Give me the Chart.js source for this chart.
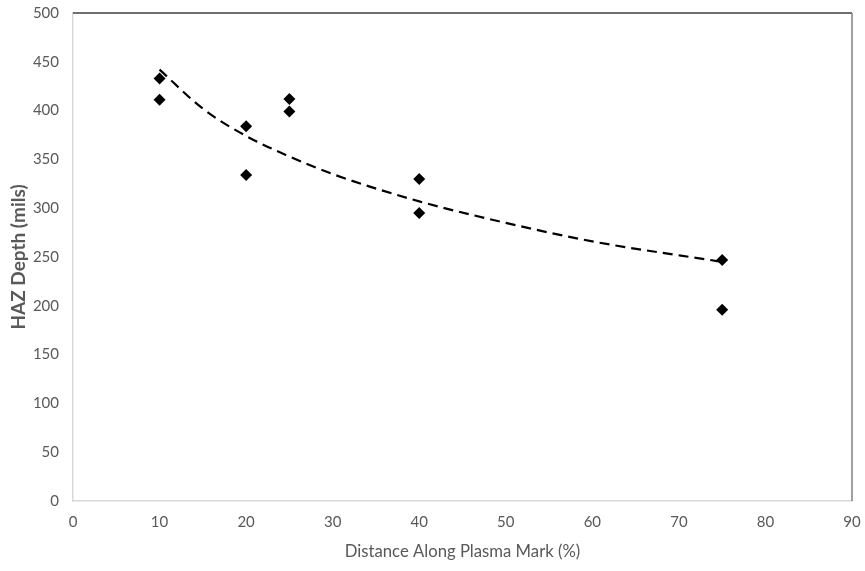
<!DOCTYPE html>
<html lang="en">
<head>
  <meta charset="UTF-8" />
  <title>HAZ Depth vs Distance Along Plasma Mark</title>
  <style>
    body { margin: 0; background: #ffffff; }
    .chart-wrapper { position: relative; width: 865px; height: 571px; }
  </style>
</head>
<body>

<div class="chart-wrapper"><canvas id="hazChart"></canvas></div>

<script src="https://cdn.jsdelivr.net/npm/chart.js@4.4.3"></script>

<script>
  const distance = [10, 10, 20, 20, 25, 25, 40, 40, 75, 75];
  const hazDepth = [433, 411, 384, 334, 412, 399, 330, 295, 247, 196];

  // dashed trendline
  const trendX = [10, 15, 20, 25, 30, 40, 50, 60, 75];
  const trendY = [442, 402, 374, 353, 335, 307, 285, 266, 245];

  const xTitle = 'Distance Along Plasma Mark (%)';
  const yTitle = 'HAZ Depth (mils)';

  const grey = '#595959';
  const font = 'Lato, "Open Sans", sans-serif';

  // top + right edges of the plot box
  const boxEdges = {
    id: 'boxEdges',
    afterDraw(chart) {
      const { ctx, chartArea: a } = chart;
      ctx.save();
      ctx.lineWidth = 1.5;
      ctx.strokeStyle = '#404040';
      ctx.beginPath();
      ctx.moveTo(a.left, a.top);
      ctx.lineTo(a.right, a.top);
      ctx.stroke();
      ctx.strokeStyle = '#808080';
      ctx.beginPath();
      ctx.moveTo(a.right, a.top);
      ctx.lineTo(a.right, a.bottom);
      ctx.stroke();
      ctx.restore();
    }
  };

  new Chart(document.getElementById('hazChart').getContext('2d'), {
    type: 'scatter',
    data: {
      datasets: [
        {
          label: 'HAZ depth',
          data: distance.map((x, i) => ({ x: x, y: hazDepth[i] })),
          pointStyle: 'rectRot',
          pointRadius: 6,
          pointHoverRadius: 6,
          backgroundColor: '#000000',
          borderColor: '#000000',
          borderWidth: 0
        },
        {
          label: 'Trend',
          type: 'line',
          data: trendX.map((x, i) => ({ x: x, y: trendY[i] })),
          borderColor: '#000000',
          borderWidth: 2.2,
          borderDash: [10, 6],
          pointRadius: 0,
          cubicInterpolationMode: 'monotone',
          fill: false
        }
      ]
    },
    options: {
      responsive: true,
      maintainAspectRatio: false,
      animation: false,
      layout: { padding: { top: 13, right: 13, left: 0, bottom: 0 } },
      plugins: { legend: { display: false }, tooltip: { enabled: false } },
      scales: {
        x: {
          type: 'linear',
          min: 0,
          max: 90,
          ticks: { stepSize: 10, color: grey, padding: 12, font: { family: font, size: 15 } },
          grid: { display: false, drawTicks: false },
          border: { color: '#d9d9d9', width: 1.5 },
          title: { display: true, text: xTitle, color: grey, padding: { top: 0, bottom: 9 }, font: { family: font, size: 16.7 } },
          afterFit(scale) { scale.height = 70; scale.paddingLeft = 0; scale.paddingRight = 0; }
        },
        y: {
          min: 0,
          max: 500,
          ticks: { stepSize: 50, color: grey, padding: 14, font: { family: font, size: 15 } },
          grid: { display: false, drawTicks: false },
          border: { color: '#d9d9d9', width: 1.5 },
          title: { display: true, text: yTitle, color: grey, padding: { top: 7, bottom: 0 }, font: { family: font, size: 19, weight: 'bold' } },
          afterFit(scale) { scale.width = 73; scale.paddingTop = 0; scale.paddingBottom = 0; }
        }
      }
    },
    plugins: [boxEdges]
  });
</script>
</body>
</html>
